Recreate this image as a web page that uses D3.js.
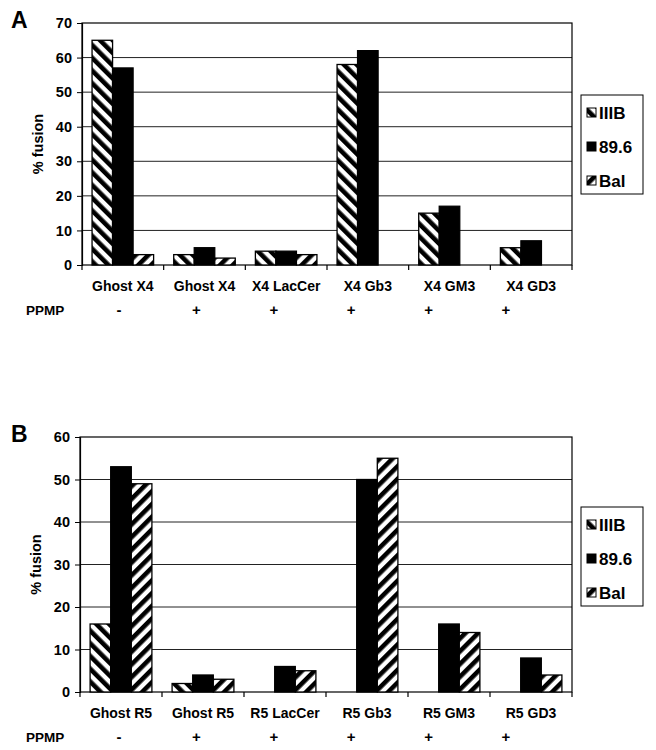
<!DOCTYPE html>
<html>
<head>
<meta charset="utf-8">
<script src="https://cdn.jsdelivr.net/npm/d3@7"></script>
<style>
  body { margin: 0; background: #fff; }
  text { font-family: "Liberation Sans", Arial, sans-serif; font-weight: bold; fill: #000; }
</style>
</head>
<body>
<div id="chart"></div>
<script>
const seriesNames = ["IIIB", "89.6", "Bal"];
const ppmp = ["-", "+", "+", "+", "+", "+"];

const catsA = ["Ghost X4", "Ghost X4", "X4 LacCer", "X4 Gb3", "X4 GM3", "X4 GD3"];
const iiibA = [65, 3, 4, 58, 15, 5];
const v896A = [57, 5, 4, 62, 17, 7];
const balA  = [3, 2, 3, 0, 0, 0];
const ticksA = [0, 10, 20, 30, 40, 50, 60, 70];

const catsB = ["Ghost R5", "Ghost R5", "R5 LacCer", "R5 Gb3", "R5 GM3", "R5 GD3"];
const iiibB = [16, 2, 0, 0, 0, 0];
const v896B = [53, 4, 6, 50, 16, 8];
const balB  = [49, 3, 5, 55, 14, 4];
const ticksB = [0, 10, 20, 30, 40, 50, 60];

const svg = d3.select("#chart").append("svg")
    .attr("width", 656)
    .attr("height", 750);

// hatch patterns
const defs = svg.append("defs");
function hatch(id, angle) {
    const p = defs.append("pattern")
        .attr("id", id)
        .attr("patternUnits", "userSpaceOnUse")
        .attr("width", 9)
        .attr("height", 9)
        .attr("patternTransform", "rotate(" + angle + ")");
    p.append("rect").attr("width", 9).attr("height", 9).attr("fill", "#fff");
    p.append("rect").attr("width", 4.6).attr("height", 9).attr("fill", "#000");
}
hatch("back", -45);
hatch("fwd", 45);
const fills = ["url(#back)", "#000", "url(#fwd)"];

function panel(o) {
    const g = svg.append("g");
    const x = d3.scaleBand().domain(d3.range(o.cats.length)).range([o.left, o.right]);
    const xs = d3.scaleBand().domain(seriesNames).range([0, x.bandwidth()]).paddingOuter(0.49).paddingInner(0);
    const y = d3.scaleLinear().domain([0, o.max]).range([o.bottom, o.top]);

    // gridlines
    g.selectAll(".grid").data(o.ticks.filter(t => t > 0 && t < o.max)).enter().append("line")
        .attr("x1", o.left).attr("x2", o.right)
        .attr("y1", d => y(d)).attr("y2", d => y(d))
        .attr("stroke", "#222").attr("stroke-width", 1);

    // frame
    g.append("rect")
        .attr("x", o.left).attr("y", o.top)
        .attr("width", o.right - o.left).attr("height", o.bottom - o.top)
        .attr("fill", "none").attr("stroke", "#000").attr("stroke-width", 1.2);

    // y axis
    const ya = g.append("g")
        .attr("transform", "translate(" + o.left + ",0)")
        .call(d3.axisLeft(y).tickValues(o.ticks).tickSize(5).tickPadding(5));
    ya.select(".domain").attr("stroke", "#000").attr("stroke-width", 1.2);
    ya.selectAll("line").attr("stroke", "#000");
    ya.selectAll("text").style("font-size", "14.5px").attr("font-family", null);

    // x axis ticks at category boundaries
    g.selectAll(".xt").data(d3.range(o.cats.length + 1)).enter().append("line")
        .attr("x1", d => o.left + d * x.step()).attr("x2", d => o.left + d * x.step())
        .attr("y1", o.bottom).attr("y2", o.bottom + 5)
        .attr("stroke", "#000").attr("stroke-width", 1.2);

    // bars
    const rows = o.cats.map((c, i) => seriesNames.map((s, j) => ({ i, s, j, v: o.series[j][i] })));
    const grp = g.selectAll(".cat").data(rows).enter().append("g")
        .attr("transform", (d, i) => "translate(" + x(i) + ",0)");
    grp.selectAll("rect").data(d => d.filter(e => e.v > 0)).enter().append("rect")
        .attr("x", d => xs(d.s))
        .attr("y", d => y(d.v))
        .attr("width", xs.bandwidth())
        .attr("height", d => y(0) - y(d.v))
        .attr("fill", d => fills[d.j])
        .attr("stroke", "#000").attr("stroke-width", 1.3);

    // category labels
    g.selectAll(".cl").data(o.cats).enter().append("text")
        .attr("x", (d, i) => x(i) + x.bandwidth() / 2)
        .attr("y", o.bottom + 26)
        .attr("text-anchor", "middle")
        .style("font-size", "14px")
        .text(d => d);

    // PPMP row
    g.append("text").attr("x", 26).attr("y", o.bottom + 50).style("font-size", "13.5px").text("PPMP");
    const px = d3.scalePoint().domain(d3.range(ppmp.length)).range([119, 506]);
    g.selectAll(".pp").data(ppmp).enter().append("text")
        .attr("x", (d, i) => px(i))
        .attr("y", o.bottom + 50)
        .attr("text-anchor", "middle")
        .style("font-size", "15px")
        .text(d => d);

    // y label
    g.append("text")
        .attr("transform", "translate(" + (o.left - 39) + "," + ((o.top + o.bottom) / 2) + ") rotate(-90)")
        .attr("text-anchor", "middle")
        .style("font-size", "14.5px")
        .text("% fusion");

    // panel letter
    g.append("text").attr("x", 11).attr("y", o.top + 5).style("font-size", "23px").text(o.letter);

    // legend
    const lg = g.append("g");
    lg.append("rect")
        .attr("x", 581).attr("y", o.legTop)
        .attr("width", 62).attr("height", 99)
        .attr("fill", "#fff").attr("stroke", "#000").attr("stroke-width", 1);
    const li = lg.selectAll(".li").data(seriesNames).enter().append("g")
        .attr("transform", (d, i) => "translate(587," + (o.legTop + 18 + i * 34) + ")");
    li.append("rect")
        .attr("x", 0).attr("y", -5).attr("width", 9).attr("height", 9)
        .attr("fill", (d, i) => fills[i]).attr("stroke", "#000").attr("stroke-width", 1);
    li.append("text")
        .attr("x", 12).attr("y", 6)
        .style("font-size", "17px")
        .text(d => d);
}

panel({
    letter: "A", cats: catsA, series: [iiibA, v896A, balA], ticks: ticksA, max: 70,
    left: 82, right: 572, top: 23, bottom: 265, legTop: 95
});
panel({
    letter: "B", cats: catsB, series: [iiibB, v896B, balB], ticks: ticksB, max: 60,
    left: 80, right: 572, top: 437, bottom: 692, legTop: 507
});
</script>
</body>
</html>
